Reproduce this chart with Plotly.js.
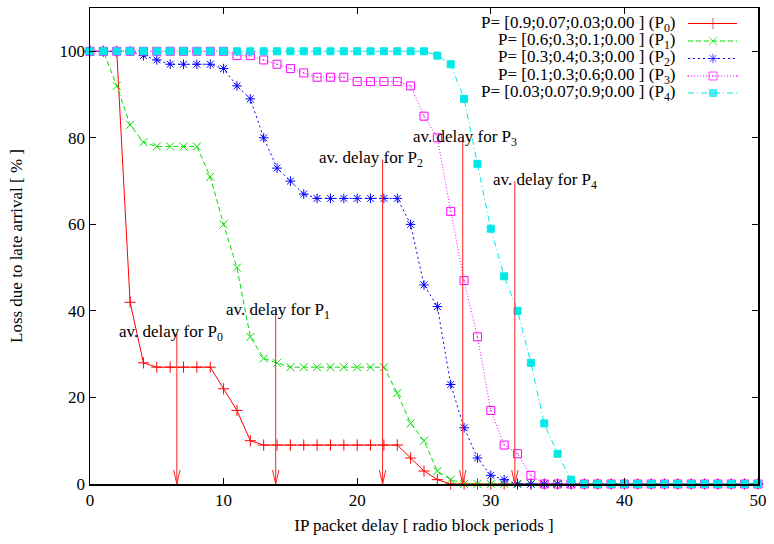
<!DOCTYPE html>
<html>
<head>
<meta charset="utf-8">
<script src="https://cdn.plot.ly/plotly-3.0.1.min.js"></script>
<style>html,body{margin:0;padding:0;background:#fff;}#chart{width:774px;height:544px;}</style>
</head>
<body>
<div id="chart"></div>
<script>
// x values: IP packet delay [radio block periods]
var delays = [0,1,2,3,4,5,6,7,8,9,10,11,12,13,14,15,16,17,18,19,20,21,22,23,24,25,26,27,28,29,30,31,32,33,34,35,36,37,38,39,40,41,42,43,44,45,46,47,48,49,50];

var lossP0 = [100,100,100,42,28,27,27,27,27,27,22,17,10,9,9,9,9,9,9,9,9,9,9,9,6,3,1,0,0,0,0,0,0,0,0,0,0,0,0,0,0,0,0,0,0,0,0,0,0,0,0];
var lossP1 = [100,100,92,83,79,78,78,78,78,71,60,50,34,29,28,27,27,27,27,27,27,27,27,21,14,10,3,1,0,0,0,0,0,0,0,0,0,0,0,0,0,0,0,0,0,0,0,0,0,0,0];
var lossP2 = [100,100,100,100,99,98,97,97,97,97,96,92,89,80,73,70,67,66,66,66,66,66,66,66,60,46,41,23,13,6,2,1,0,0,0,0,0,0,0,0,0,0,0,0,0,0,0,0,0,0,0];
var lossP3 = [100,100,100,100,100,100,100,100,100,100,100,99,99,98,97,96,95,94,94,94,93,93,93,93,92,85,80,63,47,34,17,9,7,2,0,0,0,0,0,0,0,0,0,0,0,0,0,0,0,0,0];
var lossP4 = [100,100,100,100,100,100,100,100,100,100,100,100,100,100,100,100,100,100,100,100,100,100,100,100,100,100,99,97,89,74,59,48,40,28,14,7,1,0,0,0,0,0,0,0,0,0,0,0,0,0,0];

var seriesNames = [
  'P= [0.9;0.07;0.03;0.00 ] (P<sub>0</sub>)',
  'P= [0.6;0.3;0.1;0.00 ] (P<sub>1</sub>)',
  'P= [0.3;0.4;0.3;0.00 ] (P<sub>2</sub>)',
  'P= [0.1;0.3;0.6;0.00 ] (P<sub>3</sub>)',
  'P= [0.03;0.07;0.9;0.00 ] (P<sub>4</sub>)'
];

// average delay arrows
var avDelay = [6.5, 13.9, 21.9, 27.9, 31.8];
var arrowTop = [35, 40, 75, 80, 70];
var labelX = [2, 10, 17, 24, 30];
var avLabels = ['av. delay for P<sub>0</sub>','av. delay for P<sub>1</sub>','av. delay for P<sub>2</sub>','av. delay for P<sub>3</sub>','av. delay for P<sub>4</sub>'];

var xTicks = [0,10,20,30,40,50];
var yTicks = [0,20,40,60,80,100];

var FONT = 'Liberation Serif, Times New Roman, serif';
var styles = [
  {color:'#ff0000', dash:'solid', symbol:'cross-thin-open', size:8, lw:1},
  {color:'#00e000', dash:'5px,3px', symbol:'x-thin-open', size:8, lw:1},
  {color:'#0000ff', dash:'2px,3px', symbol:'asterisk-open', size:8, lw:1},
  {color:'#ff00ff', dash:'1px,2px', symbol:'square-open-dot', size:8, lw:1},
  {color:'#00e8e8', dash:'6px,3px,1px,3px', symbol:'square', size:7, lw:1}
];
var allLoss = [lossP0, lossP1, lossP2, lossP3, lossP4];

var traces = [];
allLoss.forEach(function(vals, i){
  var s = styles[i];
  traces.push({
    x: delays, y: vals, type:'scatter', mode:'lines+markers',
    name: seriesNames[i], showlegend:false, cliponaxis:false,
    line:{color:s.color, width:s.lw, dash:s.dash},
    marker:{symbol:s.symbol, size:s.size, color:s.color, line:{color:s.color, width:1}}
  });
});

// arrows (shaft + open V head), head size in pixels converted via axis scale
var pxPerX = 668/50, pxPerY = 476/110;
var headHalfW = 3.2/pxPerX, headLen = 14/pxPerY;
avDelay.forEach(function(d, i){
  traces.push({
    x:[d, d, null, d-headHalfW, d, d+headHalfW],
    y:[arrowTop[i], 0, null, headLen, 0, headLen],
    type:'scatter', mode:'lines', showlegend:false, hoverinfo:'skip',
    line:{color:'#ff2020', width:1}
  });
});

// custom legend (gnuplot style: text left, sample right)
var legRowsPx = [23.5, 41, 58.5, 76, 93];
var plotTop = 8, plotH = 476, plotL = 90, plotW = 668;
var annotations = [];
legRowsPx.forEach(function(py, i){
  var fy = 1 - (py - plotTop)/plotH;
  var s = styles[i];
  var xa = (688-plotL)/plotW, xb = (737-plotL)/plotW, xm = (713-plotL)/plotW;
  traces.push({
    x:[xa, xm, xb], y:[fy, fy, fy], xaxis:'x2', yaxis:'y2',
    type:'scatter', mode:'lines+markers', showlegend:false, hoverinfo:'skip',
    line:{color:s.color, width:s.lw, dash:s.dash},
    marker:{symbol:s.symbol, size:[0, s.size, 0], color:s.color, line:{color:s.color, width:1}}
  });
  annotations.push({
    xref:'paper', yref:'paper', x:(678-plotL)/plotW, y:fy,
    xanchor:'right', yanchor:'middle', text:seriesNames[i], showarrow:false,
    height:16, valign:'middle',
    font:{family:FONT, size:17, color:'#000'}
  });
});

avLabels.forEach(function(t, i){
  annotations.push({
    xref:'x', yref:'y', x:labelX[i], y:arrowTop[i], xanchor:'left', yanchor:'middle',
    text:t, showarrow:false, height:18, valign:'middle',
    font:{family:FONT, size:17, color:'#000'}
  });
});

var layout = {
  width:774, height:544,
  margin:{l:90, r:16, t:8, b:60},
  paper_bgcolor:'#fff', plot_bgcolor:'#fff',
  font:{family:FONT, size:17, color:'#000'},
  showlegend:false,
  xaxis:{
    range:[0,50], tickvals:xTicks, ticktext:xTicks.map(String),
    ticks:'inside', ticklen:6, tickcolor:'#000', mirror:'ticks',
    showline:true, linecolor:'#000', linewidth:1.5, showgrid:false, zeroline:false,
    title:{text:'IP packet delay [ radio block periods ]', font:{family:FONT, size:17}, standoff:10},
    tickfont:{family:FONT, size:17}
  },
  yaxis:{
    range:[0,110], tickvals:yTicks, ticktext:yTicks.map(String),
    ticks:'inside', ticklen:6, tickcolor:'#000', mirror:'ticks',
    showline:true, linecolor:'#000', linewidth:1.5, showgrid:false, zeroline:false,
    title:{text:'Loss due to late arrival [ % ]', font:{family:FONT, size:17}, standoff:32},
    tickfont:{family:FONT, size:17}
  },
  xaxis2:{overlaying:'x', range:[0,1], visible:false, fixedrange:true},
  yaxis2:{overlaying:'y', range:[0,1], visible:false, fixedrange:true},
  annotations: annotations
};

Plotly.newPlot('chart', traces, layout, {staticPlot:true, displayModeBar:false});
</script>
</body>
</html>
